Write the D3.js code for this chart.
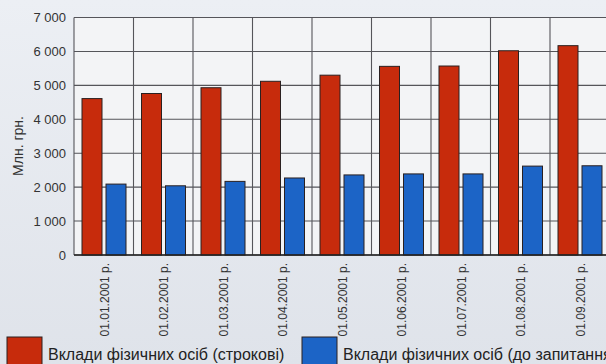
<!DOCTYPE html>
<html>
<head>
<meta charset="utf-8">
<script src="https://cdn.jsdelivr.net/npm/d3@7"></script>
<style>
  html, body { margin: 0; padding: 0; overflow: hidden; }
  svg { display: block; }
</style>
</head>
<body>
<svg id="chart" width="606" height="364"></svg>
<script>
const categories = ["01.01.2001 р.", "01.02.2001 р.", "01.03.2001 р.", "01.04.2001 р.", "01.05.2001 р.", "01.06.2001 р.", "01.07.2001 р.", "01.08.2001 р.", "01.09.2001 р."];
const termDeposits = [4610, 4760, 4930, 5120, 5300, 5560, 5570, 6020, 6170];
const demandDeposits = [2090, 2040, 2170, 2270, 2360, 2390, 2390, 2620, 2630];
const yTicks = [0, 1000, 2000, 3000, 4000, 5000, 6000, 7000];
const seriesNames = ["Вклади фізичних осіб (строкові)", "Вклади фізичних осіб (до запитання)"];
const seriesKeys = ["term", "demand"];
const yTitle = "Млн. грн.";

const colors = { term: "#c72b0c", demand: "#1c64c6" };

const svg = d3.select("#chart");
const W = 606, H = 364;
const plot = { left: 74, right: 609.5, top: 17.5, bottom: 255 };

// background
const defs = svg.append("defs");
const grad = defs.append("linearGradient").attr("id", "bg").attr("x1", 0).attr("y1", 0).attr("x2", 0).attr("y2", 1);
grad.append("stop").attr("offset", "0%").attr("stop-color", "#eceff4");
grad.append("stop").attr("offset", "100%").attr("stop-color", "#dfe3ea");
svg.append("rect").attr("width", W).attr("height", H).attr("fill", "url(#bg)");

const x = d3.scaleBand().domain(categories).range([plot.left, plot.right]).paddingInner(0).paddingOuter(0);
const xSub = d3.scaleBand().domain(seriesKeys).range([8, 52]).paddingInner(4 / 24).paddingOuter(0);
const y = d3.scaleLinear().domain([0, 7000]).range([plot.bottom, plot.top]);

// plot background
svg.append("rect")
  .attr("x", plot.left).attr("y", plot.top)
  .attr("width", plot.right - plot.left).attr("height", plot.bottom - plot.top)
  .attr("fill", "#f3f4f6");

// horizontal grid
svg.append("g").selectAll("line").data(yTicks).join("line")
  .attr("x1", plot.left).attr("x2", plot.right)
  .attr("y1", d => y(d)).attr("y2", d => y(d))
  .attr("stroke", "#55555a").attr("stroke-width", 1.1);

// vertical grid
svg.append("g").selectAll("line").data(categories).join("line")
  .attr("x1", d => x(d)).attr("x2", d => x(d))
  .attr("y1", plot.top).attr("y2", plot.bottom)
  .attr("stroke", "#55555a").attr("stroke-width", 1.1);

// bars
const rows = categories.map((c, i) => ({ cat: c, term: termDeposits[i], demand: demandDeposits[i] }));
const groups = svg.append("g").selectAll("g").data(rows).join("g")
  .attr("transform", d => `translate(${x(d.cat)},0)`);
groups.selectAll("rect").data(d => seriesKeys.map(k => ({ key: k, value: d[k] }))).join("rect")
  .attr("x", d => xSub(d.key))
  .attr("width", xSub.bandwidth())
  .attr("y", d => y(d.value))
  .attr("height", d => y(0) - y(d.value))
  .attr("fill", d => colors[d.key])
  .attr("stroke", "#2a2020").attr("stroke-width", 1);

// baseline
svg.append("line").attr("x1", plot.left).attr("x2", plot.right)
  .attr("y1", y(0)).attr("y2", y(0)).attr("stroke", "#222").attr("stroke-width", 1.5);

// y axis labels
const fmt = d => d === 0 ? "0" : d3.format(",")(d).replace(/,/g, " ");
svg.append("g").selectAll("text").data(yTicks).join("text")
  .attr("x", 66).attr("y", d => y(d)).attr("dy", "0.35em")
  .attr("text-anchor", "end")
  .attr("font-family", "Liberation Sans, Arial, sans-serif").attr("font-size", 13)
  .attr("fill", "#333").text(fmt);

// y title
svg.append("text")
  .attr("transform", "translate(18,146) rotate(-90)")
  .attr("text-anchor", "middle").attr("dy", "0.35em")
  .attr("font-family", "Liberation Sans, Arial, sans-serif").attr("font-size", 14)
  .attr("fill", "#333").text(yTitle);

// x labels
svg.append("g").selectAll("text").data(categories).join("text")
  .attr("transform", d => `translate(${x(d) + x.bandwidth() / 2 + 1},263) rotate(-90)`)
  .attr("text-anchor", "end").attr("dy", "0.35em")
  .attr("font-family", "Liberation Sans, Arial, sans-serif").attr("font-size", 12)
  .attr("fill", "#333").text(d => d);

// legend
const legendX = [7, 302];
const lg = svg.append("g").selectAll("g").data(seriesKeys).join("g")
  .attr("transform", (d, i) => `translate(${legendX[i]},337)`);
lg.append("rect").attr("width", 35).attr("height", 30)
  .attr("fill", d => colors[d]).attr("stroke", "#2a2020").attr("stroke-width", 1);
lg.append("text").attr("x", 41).attr("y", 23)
  .attr("font-family", "Liberation Sans, Arial, sans-serif").attr("font-size", 16)
  .attr("fill", "#222").text((d, i) => seriesNames[i]);
</script>
</body>
</html>
